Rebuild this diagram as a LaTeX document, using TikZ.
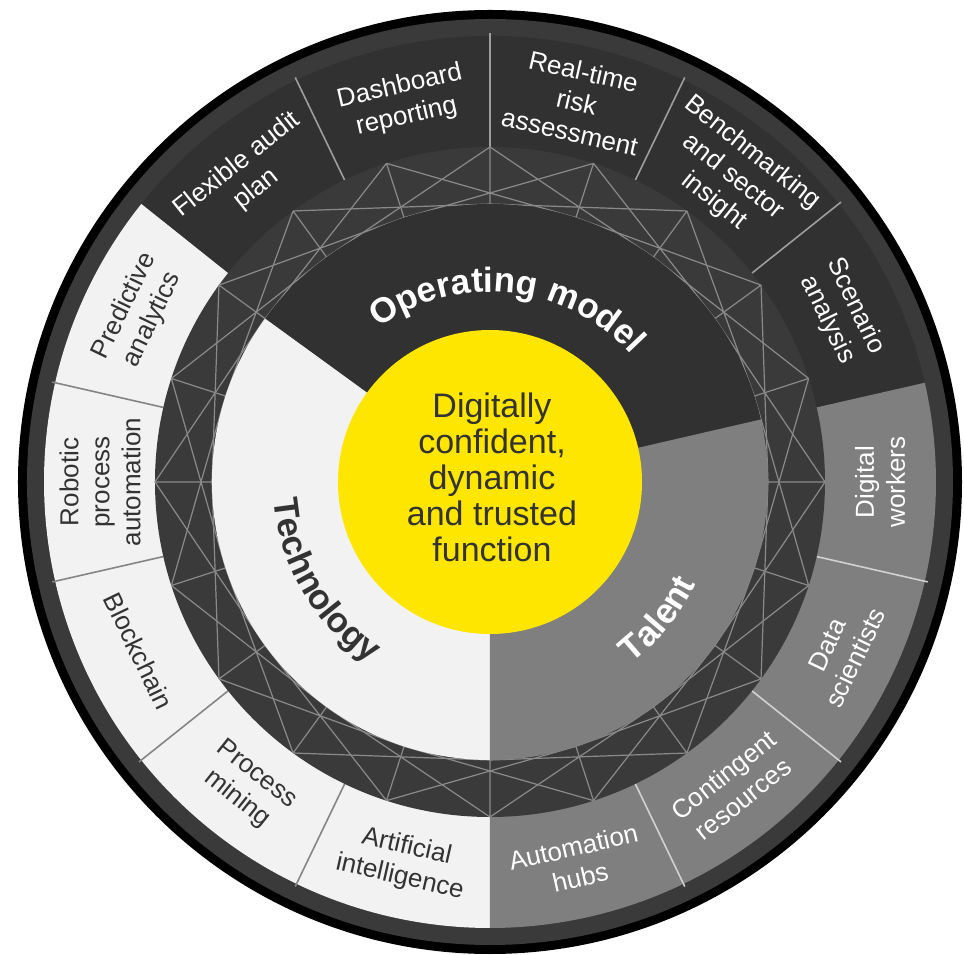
\documentclass[tikz,border=0pt]{standalone}
\usepackage{fontspec}
\setmainfont{Liberation Sans}
\usetikzlibrary{decorations.text}

\definecolor{eyyellow}{HTML}{FFE600}
\definecolor{opdark}{HTML}{313131}
\definecolor{ringdark}{HTML}{3A3A3A}
\definecolor{techlight}{HTML}{F2F2F3}
\definecolor{talentgray}{HTML}{7F7F7F}
\definecolor{latticegray}{HTML}{8A8A8A}
\definecolor{textdark}{HTML}{333333}

\begin{document}
\begin{tikzpicture}[x=1pt, y=1pt,
    seglabel/.style={align=center, inner sep=0pt, font=\fontsize{26}{31}\selectfont},
    ondark/.style={seglabel, text=white},
    onlight/.style={seglabel, text=textdark},
    sepline/.style={line width=1.6pt},
    sepdark/.style={sepline, draw=black!38},
    seplight/.style={sepline, draw=black!48},
    sepgray/.style={sepline, draw=black!18},
    lattice/.style={draw=latticegray, line width=1.2pt},
    core/.style={align=center, inner sep=0pt, text=textdark, font=\fontsize{34}{36}\selectfont}]
    \useasboundingbox (-490,-473) rectangle (474,482);

    % outer rim
    \fill[black] (0,0) circle (472);
    \fill[ringdark] (0,0) circle (463);

    % outer boxes, one wedge per group
    \fill[opdark] (0,0) -- (12.86:446) arc[start angle=12.86, end angle=141.43, radius=446] -- cycle;
    \fill[techlight] (0,0) -- (141.43:446) arc[start angle=141.43, end angle=270, radius=446] -- cycle;
    \fill[talentgray] (0,0) -- (270:446) arc[start angle=270, end angle=372.86, radius=446] -- cycle;

    % separators
    \draw[sepdark] (38.57:335) -- (38.57:449);
    \draw[sepdark] (64.29:335) -- (64.29:449);
    \draw[sepdark] (90:335) -- (90:449);
    \draw[sepdark] (115.71:335) -- (115.71:449);
    \draw[seplight] (167.14:335) -- (167.14:449);
    \draw[seplight] (192.86:335) -- (192.86:449);
    \draw[seplight] (218.57:335) -- (218.57:449);
    \draw[seplight] (244.29:335) -- (244.29:449);
    \draw[sepgray] (295.71:335) -- (295.71:449);
    \draw[sepgray] (321.43:335) -- (321.43:449);
    \draw[sepgray] (347.14:335) -- (347.14:449);

    % lattice band
    \fill[ringdark] (0,0) circle (335);
    \foreach \k in {0,...,19}{
      \draw[lattice] ({\k*18}:335) -- ({\k*18}:278)
        ({\k*18}:335) -- ({\k*18+36}:278)
        ({\k*18+36}:335) -- ({\k*18}:278);
    }

    % inner sectors
    \fill[opdark] (0,0) -- (13:278) arc[start angle=13, end angle=144, radius=278] -- cycle;
    \fill[techlight] (0,0) -- (144:278) arc[start angle=144, end angle=270, radius=278] -- cycle;
    \fill[talentgray] (0,0) -- (270:278) arc[start angle=270, end angle=373, radius=278] -- cycle;

    \fill[eyyellow] (0,0) circle (152);
    \node[core] (core) at (2,5) {Digitally\\confident,\\dynamic\\and trusted\\function};

    % sector titles
    \path[decorate, decoration={text along path, text align=center, text color=white,
        text={|\fontsize{35}{40}\selectfont\bfseries|Operating model}}]
      (174:190) arc[start angle=174, end angle=-6, radius=190];
    \path[decorate, decoration={text along path, text align=center, text color=textdark,
        text={|\fontsize{35}{40}\selectfont\bfseries|Technology}}]
      (120.6:217) arc[start angle=120.6, end angle=300.6, radius=217];
    \path[decorate, decoration={text along path, text align=center, text color=white,
        text={|\fontsize{35}{40}\selectfont\bfseries|Talent}}]
      (230.9:230) arc[start angle=230.9, end angle=410.9, radius=230];

    % operating model boxes
    \node[ondark, rotate=38.57] (flex) at (128.57:390) {Flexible audit\\plan};
    \node[ondark, rotate=12.86] (dash) at (102.86:390) {Dashboard\\reporting};
    \node[ondark, rotate=-12.86] (realtime) at (77.14:390) {Real-time\\risk\\assessment};
    \node[ondark, rotate=-38.57] (bench) at (51.43:390) {Benchmarking\\and sector\\insight};
    \node[ondark, rotate=-64.29] (scen) at (25.71:390) {Scenario\\analysis};

    % talent boxes
    \node[ondark, rotate=90] (digital) at (0:390) {Digital\\workers};
    \node[ondark, rotate=64.29] (datasci) at (-25.71:390) {Data\\scientists};
    \node[ondark, rotate=38.57] (conting) at (-51.43:390) {Contingent\\resources};
    \node[ondark, rotate=12.86] (autohubs) at (-77.14:390) {Automation\\hubs};

    % technology boxes
    \node[onlight, rotate=-12.86] (ai) at (257.14:390) {Artificial\\intelligence};
    \node[onlight, rotate=-38.57] (procmin) at (231.43:390) {Process\\mining};
    \node[onlight, rotate=-64.29] (block) at (205.71:390) {Blockchain};
    \node[onlight, rotate=90] (rpa) at (180:390) {Robotic\\process\\automation};
    \node[onlight, rotate=64.29] (predict) at (154.29:390) {Predictive\\analytics};
  \end{tikzpicture}
\end{document}
